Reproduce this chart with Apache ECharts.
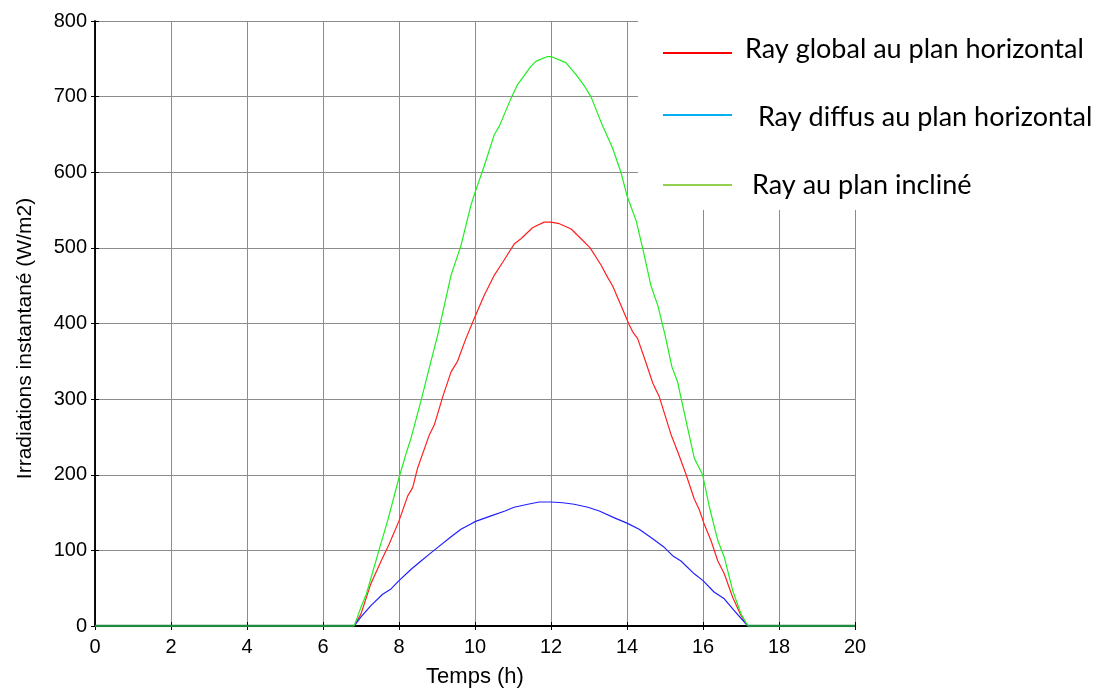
<!DOCTYPE html>
<html>
<head>
<meta charset="utf-8">
<script src="https://cdn.jsdelivr.net/npm/echarts@6/dist/echarts.min.js"></script>
<style>
  html, body { margin: 0; padding: 0; background: #fff; }
  #chart { width: 1098px; height: 693px; }
</style>
</head>
<body>
<div id="chart"></div>
<script>
// heures (h) et irradiations (W/m2)
var globalT = [6.82, 7.0, 7.26, 7.53, 7.74, 8.0, 8.23, 8.36, 8.49, 8.8, 8.93, 9.15, 9.37, 9.54, 9.76, 10.0, 10.24, 10.51, 10.73, 11.03, 11.21, 11.52, 11.82, 12.0,
  12.22, 12.53, 12.79, 13.03, 13.32, 13.49, 13.62, 13.84, 14.06, 14.15, 14.28, 14.46, 14.68, 14.85, 15.16, 15.33, 15.55, 15.77, 15.9, 16.03, 16.21, 16.39, 16.56, 16.78, 17.0, 17.18];
var globalV = [0, 16, 56, 86, 108, 139, 172, 183, 209, 253, 266, 303, 336, 350, 380, 409, 437, 464, 481, 505, 512, 527, 534, 534,
  532, 525, 512, 500, 477, 461, 450, 424, 398, 389, 380, 354, 321, 303, 253, 231, 201, 168, 154, 135, 113, 86, 69, 38, 14, 0];

var diffusT = [6.82, 7.0, 7.26, 7.57, 7.79, 8.0, 8.32, 8.58, 8.8, 9.02, 9.37, 9.63, 9.89, 10.0, 10.44, 10.79, 11.03, 11.39, 11.69, 12.0,
  12.31, 12.61, 12.97, 13.27, 13.67, 14.0, 14.32, 14.63, 14.98, 15.2, 15.42, 15.77, 16.0, 16.29, 16.56, 16.81, 17.18];
var diffusV = [0, 12, 27, 42, 49, 60, 75, 86, 95, 104, 118, 128, 135, 138, 146, 152, 157, 161, 164, 164,
  163, 161, 157, 152, 143, 136, 128, 117, 104, 93, 86, 69, 60, 45, 36, 21, 0];

var inclineT = [6.82, 7.0, 7.14, 7.5, 7.7, 8.0, 8.18, 8.32, 8.6, 8.84, 9.02, 9.37, 9.63, 9.89, 10.0, 10.24, 10.51, 10.64, 10.95, 11.12, 11.47, 11.61, 11.91, 12.0,
  12.39, 12.66, 12.88, 13.05, 13.36, 13.62, 13.84, 14.0, 14.24, 14.41, 14.63, 14.81, 15.0, 15.18, 15.33, 15.42, 15.77, 15.99, 16.17, 16.39, 16.56, 16.78, 17.0, 17.18];
var inclineV = [0, 25, 42, 105, 139, 196, 227, 249, 302, 350, 385, 464, 503, 556, 573, 608, 650, 661, 698, 716, 740, 747, 753, 753,
  745, 729, 714, 700, 661, 632, 600, 569, 536, 500, 450, 424, 385, 343, 323, 302, 222, 200, 157, 113, 91, 47, 16, 0];

// nuit : rayonnement nul
var nuitT = [[0, 6.82], [17.18, 20]];

var xTicks = [0, 2, 4, 6, 8, 10, 12, 14, 16, 18, 20];
var yTicks = [0, 100, 200, 300, 400, 500, 600, 700, 800];

var legendNames = ['Ray global au plan horizontal', ' Ray diffus au plan horizontal', 'Ray au plan incliné'];
var legendColors = ['#ff0000', '#00b0f0', '#92d050'];

function pairs(t, v) {
  var out = [];
  for (var i = 0; i < t.length; i++) out.push([t[i], v[i]]);
  return out;
}

var chart = echarts.init(document.getElementById('chart'));

var axisFont = { fontFamily: 'Liberation Sans', fontSize: 20, color: '#000' };

var series = [
  { name: 'global', type: 'line', data: pairs(globalT, globalV), color: '#ff2020' },
  { name: 'diffus', type: 'line', data: pairs(diffusT, diffusV), color: '#2020ff' },
  { name: 'incline', type: 'line', data: pairs(inclineT, inclineV), color: '#20ee20' }
].map(function (s) {
  s.showSymbol = false;
  s.symbol = 'none';
  s.lineStyle = { width: 1.2, color: s.color };
  s.animation = false;
  s.z = 3;
  return s;
});

nuitT.forEach(function (seg) {
  series.push({
    type: 'line', symbol: 'none', animation: false, z: 4,
    data: [[seg[0], 0], [seg[1], 0]],
    lineStyle: { width: 2.5, color: '#1e8a3c' }
  });
});

// legende dessinee a la main (zone blanche en haut a droite)
var graphics = [{
  type: 'rect', z: 100,
  shape: { x: 638, y: 0, width: 460, height: 210 },
  style: { fill: '#fff' }
}];
var legY = [53, 115, 185];
var legTextX = [745, 751, 752];
var legTextY = [49, 117, 185];
for (var i = 0; i < legendNames.length; i++) {
  graphics.push({
    type: 'line', z: 101,
    shape: { x1: 663, y1: legY[i], x2: 732, y2: legY[i] },
    style: { stroke: legendColors[i], lineWidth: 2 }
  });
  graphics.push({
    type: 'text', z: 101,
    x: legTextX[i], y: legTextY[i],
    style: {
      text: legendNames[i], fill: '#000',
      font: '27px Lato', textAlign: 'left', textVerticalAlign: 'middle'
    }
  });
}

chart.setOption({
  backgroundColor: '#fff',
  animation: false,
  grid: { left: 95, right: 243, top: 21, bottom: 64 },
  xAxis: [{
    type: 'value', min: 0, max: 20, interval: 2,
    name: 'Temps (h)', nameLocation: 'middle', nameGap: 40,
    nameTextStyle: { fontFamily: 'Liberation Sans', fontSize: 22, color: '#000' },
    axisLine: { onZero: false, lineStyle: { color: '#000', width: 2 } },
    axisTick: { inside: true, length: 4, lineStyle: { color: '#000' } },
    axisLabel: Object.assign({ margin: 11, formatter: function (v) { return xTicks.indexOf(v) >= 0 ? v : ''; } }, axisFont),
    splitLine: { show: true, lineStyle: { color: '#8c8c8c', width: 1 } }
  }, {
    type: 'value', position: 'top', min: 0, max: 20, interval: 2,
    axisLine: { show: true, lineStyle: { color: '#000', width: 1.5 } },
    axisTick: { inside: true, length: 4, lineStyle: { color: '#000' } },
    axisLabel: { show: false }, splitLine: { show: false }
  }],
  yAxis: [{
    type: 'value', min: 0, max: 800, interval: 100,
    name: 'Irradiations instantané (W/m2)', nameLocation: 'middle', nameGap: 59,
    nameTextStyle: { fontFamily: 'Liberation Sans', fontSize: 21, color: '#000', padding: [0, 30, 0, 0] },
    axisLine: { show: true, onZero: false, lineStyle: { color: '#000', width: 1.5 } },
    axisTick: { show: true, inside: true, length: 4, lineStyle: { color: '#000' } },
    axisLabel: Object.assign({ margin: 8, formatter: function (v) { return yTicks.indexOf(v) >= 0 ? v : ''; } }, axisFont),
    splitLine: { show: true, lineStyle: { color: '#8c8c8c', width: 1 } }
  }, {
    type: 'value', position: 'right', min: 0, max: 800, interval: 100,
    axisLine: { show: true, lineStyle: { color: '#000', width: 1.5 } },
    axisTick: { show: true, inside: true, length: 4, lineStyle: { color: '#000' } },
    axisLabel: { show: false }, splitLine: { show: false }
  }],
  series: series,
  graphic: graphics
});
</script>
</body>
</html>
